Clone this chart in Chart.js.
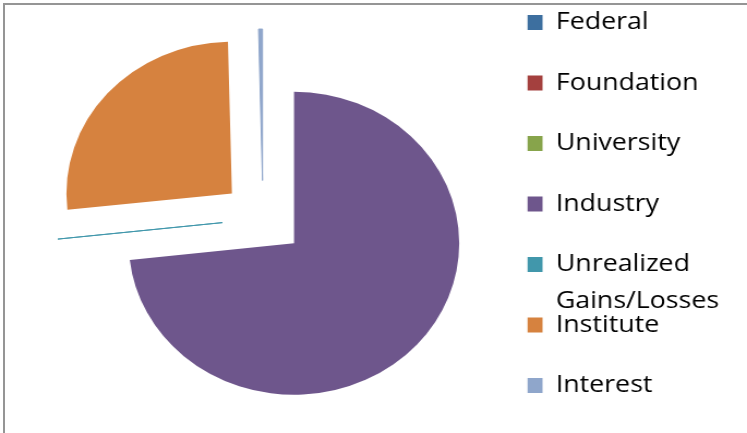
<!DOCTYPE html>
<html><head><meta charset="utf-8">
<script src="https://cdn.jsdelivr.net/npm/chart.js@4.4.0/dist/chart.umd.min.js"></script>
<style>
html,body{margin:0;padding:0;background:#fff;width:747px;height:433px;overflow:hidden;}
#frame{position:absolute;left:3px;top:3px;width:744px;height:430px;border-top:2px solid #959595;border-left:2px solid #959595;box-sizing:border-box;}
canvas{position:absolute;left:0;top:0;}
</style></head><body>
<div id="frame"></div>
<canvas id="big" width="685" height="433" style="width:747px;height:433px"></canvas>
<canvas id="interest" width="685" height="433" style="width:747px;height:433px"></canvas>
<canvas id="legendLayer" width="685" height="433" style="width:747px;height:433px"></canvas>
<script>
// ---- data ----
const categories = ['Federal', 'Foundation', 'University', 'Industry', 'Unrealized Gains/Losses', 'Institute', 'Interest'];
const shares = [0, 0, 0, 73.25, 0.04, 26.33, 0.38];   // percent of total
const colors = ['#3D6F9F', '#A4403E', '#87A44B', '#6E568C', '#4197AB', '#D6823F', '#8FA6CB'];

// ---- styling / layout ----
// The exploded pie is drawn in layers (each layer centred where its slices' corner sits),
// all from the same data; slices not belonging to a layer are transparent.
const clear = 'rgba(0,0,0,0)';
function fills(show) { return colors.map((c, i) => show.includes(i) ? c : clear); }

function pieLayer(id, show, opts) {
  return new Chart(document.getElementById(id), {
    type: 'pie',
    data: {
      labels: categories,
      datasets: [{
        data: shares,
        backgroundColor: fills(show),
        borderColor: fills(show),
        borderWidth: categories.map((c, i) => show.includes(i) ? (opts.border || 0) : 0),
        offset: opts.offset,
        radius: opts.radius
      }]
    },
    options: {
      responsive: false, animation: false, events: [],
      layout: { padding: opts.padding },
      plugins: { tooltip: { enabled: false }, legend: opts.legend || { display: false } }
    }
  });
}

// Industry + Institute (centred on the Industry corner)
pieLayer('big', [3, 5], {
  offset: categories.map((c, i) => i === 5 ? 302.8 : 0),
  radius: 151.5,
  padding: { left: 0, right: 145.8, top: 53.6, bottom: 0 }
});

// Interest sliver (centred on its own corner)
pieLayer('interest', [6], {
  offset: categories.map(() => 0),
  radius: 151.5,
  border: 1,
  padding: { left: 0, right: 203.6, top: 0, bottom: 72 }
});

// legend + Unrealized Gains/Losses (pie's true centre, slice exploded 38px)
const legendFont = { family: 'Open Sans', size: 24.5, lineHeight: '12.1px' };
const meas = document.createElement('canvas').getContext('2d');
meas.font = 'normal ' + legendFont.size + 'px ' + legendFont.family;
const widest = Math.max(...categories.map(c => meas.measureText(
  c.split(' ').reduce((a, b) => a.length > b.length ? a : b)).width));
const legendWidth = 14 + legendFont.size / 2 + widest + 10;
const legendLeft = 483.5;

pieLayer('legendLayer', [4], {
  offset: categories.map(() => 152),
  radius: 114,
  border: 1,
  padding: { left: 0, right: 685 - legendLeft - legendWidth, top: 10.25, bottom: 6.25 },
  legend: {
    position: 'right',
    align: 'start',
    labels: {
      boxWidth: 14,
      boxHeight: 15,
      padding: 0,
      color: '#000',
      font: legendFont,
      generateLabels() {
        const last = categories.length - 1;
        return categories.map((c, i) => {
          const words = c.split(' ');
          let text;
          if (i === last) text = c;
          else if (words.length > 1) text = [words[0], '', '', words.slice(1).join(' '), ''];
          else text = [c, '', '', '', ''];
          return { text, fillStyle: colors[i], strokeStyle: colors[i], lineWidth: 0, hidden: false, index: i };
        });
      }
    }
  }
});
</script>
</body></html>
